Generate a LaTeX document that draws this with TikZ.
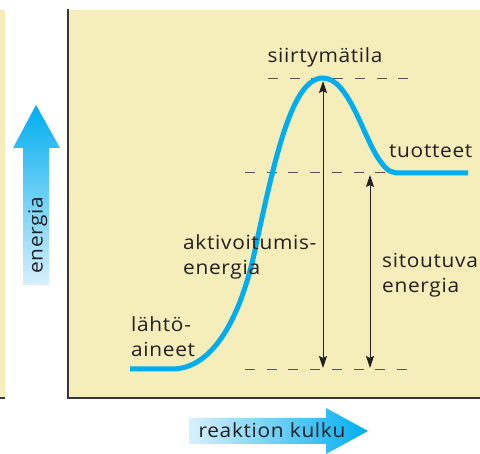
\documentclass[tikz,border=0pt]{standalone}
\usepackage{fontspec}
\setmainfont{Open Sans}[FakeStretch=1.07,LetterSpace=3.5]
\usetikzlibrary{arrows.meta}

\definecolor{paneltan}{RGB}{245,237,186}
\definecolor{curveblue}{RGB}{0,174,239}
\definecolor{paleblue}{RGB}{216,240,252}
\definecolor{inkgray}{RGB}{35,31,32}
\definecolor{dashgray}{RGB}{85,85,85}
\definecolor{framegray}{RGB}{55,55,55}

\tikzset{
  lbl/.style={font=\fontsize{19.5}{25}\selectfont, text=inkgray, inner sep=0pt},
  level/.style={dashgray, line width=0.9pt, dash pattern=on 10pt off 11.7pt},
  gap/.style={inkgray, line width=1pt, {Stealth[length=12pt,width=8pt,inset=2pt]}-{Stealth[length=12pt,width=8pt,inset=2pt]}}
}

\begin{document}
\begin{tikzpicture}[x=1pt,y=-1pt]
\useasboundingbox (0,0) rectangle (480,454);

% panels
\fill[paneltan] (0,10) rectangle (4.5,398);
\draw[framegray, line width=1.3pt] (0,398) -- (4.5,398);
\fill[paneltan] (68,10) rectangle (480,398);
\draw[framegray, line width=1.3pt] (68,9) -- (68,398) -- (480,398);

% axis arrows
\shade[bottom color=paleblue, top color=curveblue]
  (23,285) -- (23,148) -- (13,148) -- (36,105) -- (60,148) -- (49,148) -- (49,285) -- cycle;
\node[lbl, rotate=90, anchor=base] (yaxis) at (42.7,235) {energia};

\shade[left color=paleblue, right color=curveblue]
  (189,418) -- (326,418) -- (326,408) -- (368,431) -- (326,454) -- (326,444) -- (189,444) -- cycle;
\node[lbl, anchor=base] (xaxis) at (272,437.5) {reaktion kulku};

% energy levels
\coordinate (top1) at (268,78);   \coordinate (top2) at (410,78);
\coordinate (mid1) at (245,172);  \coordinate (mid2) at (410,172);
\coordinate (low1) at (245,369);  \coordinate (low2) at (410,369);
\draw[level] (top1) -- (top2);
\draw[level] (mid1) -- (mid2);
\draw[level] (low1) -- (low2);

% reaction curve
\draw[curveblue, line width=5pt]
  (130,369) -- (172,369) .. controls (212,369) and (240,320) .. (255,250)
  .. controls (275,157) and (292,78) .. (323,78)
  .. controls (348,78) and (363,135) .. (378,158)
  .. controls (388,173) and (392,173) .. (402,173) -- (468,173);

% energy differences
\coordinate (peak) at (323,81);
\coordinate (peakbase) at (323,368);
\coordinate (prod) at (370,175);
\coordinate (prodbase) at (370,368);
\draw[gap] (peakbase) -- (peak);
\draw[gap] (prodbase) -- (prod);

% labels
\node[lbl, anchor=base] (ts) at (325,63) {siirtymätila};
\node[lbl, anchor=base west] (prodlbl) at (389,158) {tuotteet};
\node[lbl, anchor=north west, align=left] (ea) at (183,234) {aktivoitumis-\\energia};
\node[lbl, anchor=north west, align=left] (de) at (382,253) {sitoutuva\\energia};
\node[lbl, anchor=north west, align=left] (react) at (131,316) {lähtö-\\aineet};
\end{tikzpicture}
\end{document}
